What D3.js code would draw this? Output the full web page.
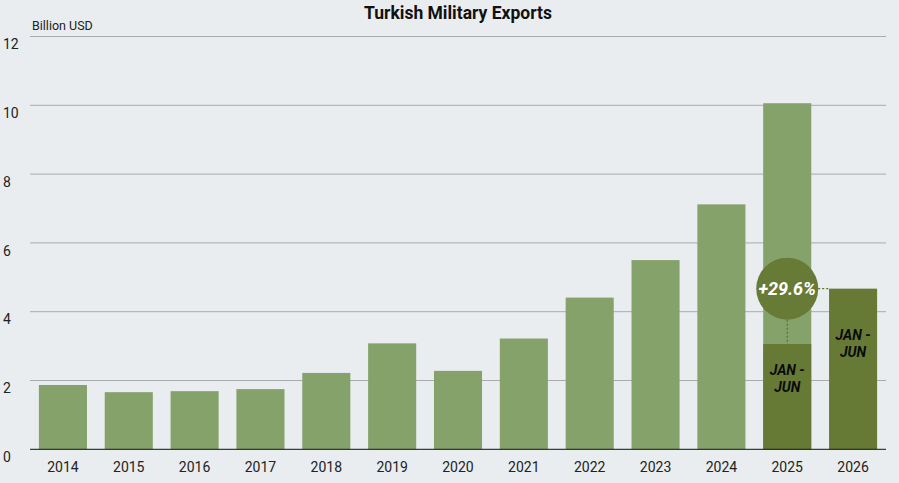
<!DOCTYPE html>
<html><head><meta charset="utf-8">
<script src="https://cdn.jsdelivr.net/npm/d3@7"></script>
<style>
html,body{margin:0;padding:0;background:#e9edf0;}
svg{display:block;font-family:Roboto,"Noto Sans",sans-serif;}
</style></head>
<body><svg id="c" width="899" height="483"></svg>
<script>
const years = ["2014","2015","2016","2017","2018","2019","2020","2021","2022","2023","2024","2025","2026"];
const annualValues = [1.87,1.66,1.69,1.75,2.22,3.08,2.28,3.22,4.41,5.50,7.12,10.06,null];
const halfYearValues = [null,null,null,null,null,null,null,null,null,null,null,3.06,4.67];
const yTicks = [0,2,4,6,8,10,12];
const halfLabel = ["JAN -","JUN"];
const growthLabel = "+29.6%";

const svg = d3.select("#c");
const W = 899, H = 483;
const m = {l:30, r:13, t:36.5, b:33.7};
const x = d3.scaleBand().domain(years).range([m.l, W-m.r]).paddingInner(0.27).paddingOuter(0.135);
const y = d3.scaleLinear().domain([0,12]).range([H-m.b, m.t]);

svg.append("rect").attr("width",W).attr("height",H).attr("fill","#e9edf0");

// grid
svg.append("g").selectAll("line").data(yTicks.filter(d=>d>0)).join("line")
  .attr("x1",m.l).attr("x2",W-m.r).attr("y1",d=>y(d)).attr("y2",d=>y(d))
  .attr("stroke","#a9abad").attr("stroke-width",1);

// y labels
svg.append("g").selectAll("text").data(yTicks).join("text")
  .attr("x",3).attr("y",d=>y(d)+12.6).attr("font-size",14).attr("fill","#222")
  .text(d=>d);

svg.append("text").attr("x",32).attr("y",30).attr("font-size",12.5).attr("fill","#222").text("Billion USD");

svg.append("text").attr("x",458).attr("y",19).attr("text-anchor","middle")
  .attr("font-size",17.5).attr("font-weight","bold").attr("fill","#111").text("Turkish Military Exports");

const light = "#84a26a", dark = "#667a35";
// annual bars
svg.append("g").selectAll("rect").data(years.map((d,i)=>({k:d,v:annualValues[i]})).filter(d=>d.v!=null)).join("rect")
  .attr("x",d=>x(d.k)).attr("width",x.bandwidth()).attr("y",d=>y(d.v)).attr("height",d=>y(0)-y(d.v)).attr("fill",light);
// half-year bars
const half = years.map((d,i)=>({k:d,v:halfYearValues[i]})).filter(d=>d.v!=null);
svg.append("g").selectAll("rect").data(half).join("rect")
  .attr("x",d=>x(d.k)).attr("width",x.bandwidth()).attr("y",d=>y(d.v)).attr("height",d=>y(0)-y(d.v)).attr("fill",dark);

// axis line
svg.append("line").attr("x1",m.l).attr("x2",W-m.r).attr("y1",y(0)).attr("y2",y(0)).attr("stroke","#111").attr("stroke-width",1);

// x labels
svg.append("g").selectAll("text").data(years).join("text")
  .attr("x",d=>x(d)+x.bandwidth()/2).attr("y",y(0)+22.5).attr("text-anchor","middle")
  .attr("font-size",14).attr("fill","#222").text(d=>d);

// JAN-JUN labels
const offs = {"2025":26,"2026":46};
half.forEach(d=>{
  const cx = x(d.k)+x.bandwidth()/2;
  halfLabel.forEach((t,j)=>{
    svg.append("text").attr("x",cx).attr("y",y(d.v)+offs[d.k]+5+j*17).attr("text-anchor","middle")
      .attr("font-size",14).attr("font-weight","bold").attr("font-style","italic").attr("fill","#0a0a0a").text(t);
  });
});

// growth annotation
const a = half[0], b = half[1];
const cx = x(a.k)+x.bandwidth()/2, cy = y(b.v), r = 31;
svg.append("line").attr("x1",cx).attr("x2",cx).attr("y1",cy+r).attr("y2",y(a.v))
  .attr("stroke","#5d6f30").attr("stroke-width",1.2).attr("stroke-dasharray","2,2");
svg.append("line").attr("x1",cx+r).attr("x2",x(b.k)).attr("y1",cy).attr("y2",cy)
  .attr("stroke","#5d6f30").attr("stroke-width",1.2).attr("stroke-dasharray","2,2");
svg.append("circle").attr("cx",cx).attr("cy",cy).attr("r",r).attr("fill","#687b36");
svg.append("text").attr("x",cx).attr("y",cy+6.5).attr("text-anchor","middle")
  .attr("font-size",18).attr("font-weight","bold").attr("font-style","italic").attr("fill","#fff").text(growthLabel);
</script></body></html>
